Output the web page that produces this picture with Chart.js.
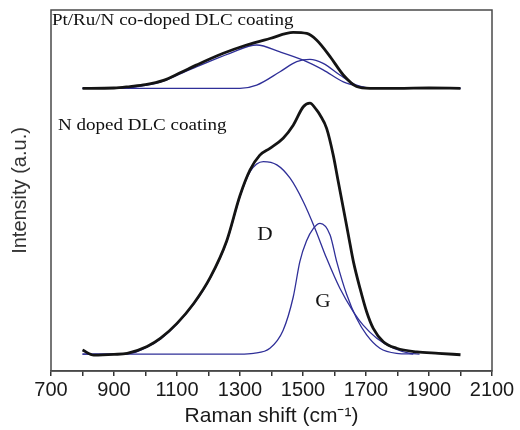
<!DOCTYPE html>
<html>
<head>
<meta charset="utf-8">
<script src="https://cdn.jsdelivr.net/npm/chart.js@4.4.1/dist/chart.umd.min.js"></script>
<style>
  html, body { margin: 0; padding: 0; background: #fff; }
  #wrap { width: 520px; height: 430px; }
</style>
</head>
<body>
<div id="wrap"><canvas id="ramanChart" width="520" height="430"></canvas></div>
<script>
// Raman shift (cm-1) / intensity (a.u.)

// Pt/Ru/N co-doped DLC coating (upper spectrum)
const coShift    = [800, 900, 951, 1000, 1057, 1110, 1163, 1247, 1321, 1395, 1469, 1512, 1543, 1586, 1628, 1670, 1713, 1800, 1900, 2000];
const coMeasured = [78.3, 78.4, 78.8, 79.3, 80.5, 82.6, 84.8, 88.0, 90.3, 92.1, 93.8, 93.5, 91.7, 87.1, 82.0, 78.8, 78.3, 78.3, 78.4, 78.3];
const coDShift   = [800, 951, 1000, 1057, 1110, 1163, 1268, 1353, 1427, 1501, 1564, 1628, 1681, 1730, 2000];
const coDBand    = [78.3, 78.5, 79.1, 80.3, 82.3, 84.3, 88.0, 90.3, 88.4, 86.1, 83.4, 80.1, 78.8, 78.3, 78.3];
const coGShift   = [800, 1100, 1300, 1353, 1427, 1480, 1522, 1564, 1617, 1670, 1720, 2000];
const coGBand    = [78.3, 78.3, 78.3, 79.2, 82.9, 85.7, 86.3, 85.2, 82.0, 79.2, 78.3, 78.3];

// N doped DLC coating (lower spectrum)
const nShift    = [800, 836, 900, 942, 1005, 1048, 1100, 1153, 1206, 1258, 1300, 1332, 1363, 1395, 1437, 1469, 1501, 1522, 1543, 1554, 1575, 1596, 1612, 1628, 1644, 1660, 1681, 1702, 1723, 1755, 1797, 1861, 1930, 2000];
const nMeasured = [5.8, 4.4, 4.6, 4.9, 6.8, 9.1, 13.2, 18.7, 26.0, 36.1, 48.6, 55.7, 59.8, 61.7, 64.5, 68.1, 73.2, 74.2, 72.3, 70.9, 67.2, 59.8, 52.4, 45.1, 37.7, 30.3, 22.9, 16.4, 11.8, 8.1, 6.3, 5.3, 4.9, 4.5];
const nDShift   = [800, 900, 960, 1005, 1048, 1100, 1153, 1206, 1258, 1300, 1332, 1374, 1417, 1459, 1501, 1538, 1575, 1617, 1660, 1691, 1734, 1787, 1840, 1870];
const nDBand    = [4.7, 4.7, 5.0, 6.6, 8.9, 13.0, 18.5, 25.8, 35.8, 48.3, 55.2, 58.0, 57.1, 53.4, 46.9, 39.5, 31.2, 22.9, 16.4, 12.7, 9.1, 6.3, 4.9, 4.7];
const nGShift   = [800, 1100, 1300, 1343, 1395, 1437, 1469, 1490, 1511, 1533, 1554, 1586, 1607, 1639, 1670, 1702, 1744, 1797, 1850];
const nGBand    = [4.7, 4.7, 4.7, 4.9, 6.3, 11.3, 20.5, 30.3, 36.0, 39.5, 40.9, 37.7, 30.3, 21.1, 14.6, 10.0, 6.3, 4.9, 4.7];

// x-axis range
const xMin = 700;
const xMax = 2100;

// text placed inside the plot, in data coordinates
const notes = [
    { text: 'Pt/Ru/N co-doped DLC coating', x: 703, y: 97.2, size: 17, align: 'left' },
    { text: 'N doped DLC coating', x: 722, y: 68.1, size: 17, align: 'left' },
    { text: 'D', x: 1379, y: 37.7, size: 19, align: 'center' },
    { text: 'G', x: 1563, y: 19.1, size: 19, align: 'center' }
];

const BLACK = '#141414';
const BLUE = '#2f2f98';

const toPoints = (xs, ys) => xs.map((x, i) => ({ x: x, y: ys[i] }));

function lineSet(label, xs, ys, color, width) {
    return {
        label: label,
        data: toPoints(xs, ys),
        borderColor: color,
        backgroundColor: color,
        borderWidth: width,
        pointRadius: 0,
        cubicInterpolationMode: 'monotone',
        fill: false
    };
}

// black (measured) first so it sits on top of the fitted bands
const datasets = [
    lineSet('Pt/Ru/N measured', coShift, coMeasured, BLACK, 2.8),
    lineSet('N measured', nShift, nMeasured, BLACK, 2.8),
    lineSet('Pt/Ru/N D', coDShift, coDBand, BLUE, 1.3),
    lineSet('Pt/Ru/N G', coGShift, coGBand, BLUE, 1.3),
    lineSet('N D', nDShift, nDBand, BLUE, 1.3),
    lineSet('N G', nGShift, nGBand, BLUE, 1.3)
];

const framePlugin = {
    id: 'frameAndNotes',
    afterDatasetsDraw(chart) {
        const { ctx, chartArea: a, scales } = chart;
        ctx.save();
        ctx.strokeStyle = '#4a4a4a';
        ctx.lineWidth = 1.5;
        ctx.strokeRect(a.left, a.top, a.right - a.left, a.bottom - a.top);

        ctx.fillStyle = '#111';
        ctx.textBaseline = 'middle';
        notes.forEach(n => {
            // the original lettering is a little wider than the font, stretch it
            ctx.save();
            ctx.translate(scales.x.getPixelForValue(n.x), scales.y.getPixelForValue(n.y));
            ctx.scale(1.12, 1);
            ctx.font = n.size + "px 'Liberation Serif', 'Times New Roman', serif";
            ctx.textAlign = n.align;
            ctx.fillText(n.text, 0, 0);
            ctx.restore();
        });
        ctx.restore();
    }
};

const ctx = document.getElementById('ramanChart').getContext('2d');

new Chart(ctx, {
    type: 'line',
    data: { datasets: datasets },
    options: {
        responsive: false,
        animation: false,
        layout: { padding: { top: 10, right: 28, left: 0, bottom: 0 } },
        plugins: {
            legend: { display: false },
            tooltip: { enabled: false }
        },
        scales: {
            x: {
                type: 'linear',
                min: xMin,
                max: xMax,
                afterFit: (scale) => { scale.height = 59; },
                ticks: {
                    stepSize: 100,
                    autoSkip: false,
                    maxRotation: 0,
                    padding: 2,
                    color: '#1a1a1a',
                    font: { family: "'Liberation Sans', Arial, sans-serif", size: 20 },
                    callback: (v) => ((v - xMin) % 200 === 0 ? String(v) : '')
                },
                grid: {
                    drawOnChartArea: false,
                    drawTicks: true,
                    tickLength: 5,
                    color: '#333',
                    lineWidth: 1.5
                },
                border: { display: true, color: '#4a4a4a', width: 1.5 },
                title: {
                    display: true,
                    text: 'Raman shift (cm\u207B\u00B9)',
                    color: '#1a1a1a',
                    padding: { top: 0, bottom: 1 },
                    font: { family: "'Liberation Sans', Arial, sans-serif", size: 21 }
                }
            },
            y: {
                type: 'linear',
                min: 0,
                max: 100,
                afterFit: (scale) => { scale.width = 51; },
                ticks: { display: false },
                grid: { display: false },
                border: { display: false },
                title: {
                    display: true,
                    text: 'Intensity (a.u.)',
                    color: '#333',
                    padding: { top: 8, bottom: 0 },
                    font: { family: "'Liberation Sans', Arial, sans-serif", size: 20 }
                }
            }
        }
    },
    plugins: [framePlugin]
});
</script>
</body>
</html>
